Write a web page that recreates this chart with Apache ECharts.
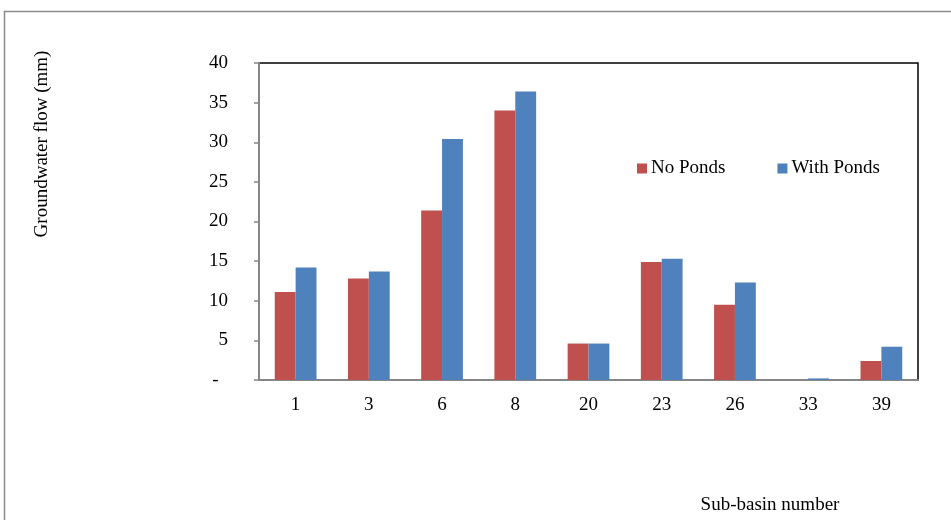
<!DOCTYPE html>
<html>
<head>
<meta charset="utf-8">
<script src="https://cdn.jsdelivr.net/npm/echarts@6/dist/echarts.min.js"></script>
<style>
  html, body { margin: 0; padding: 0; background: #fff; }
  #chart { width: 951px; height: 520px; }
</style>
</head>
<body>
<div id="chart"></div>
<script>
// Sub-basins and groundwater flow (mm) with and without ponds
const subBasins = ['1', '3', '6', '8', '20', '23', '26', '33', '39'];
const noPonds   = [11.1, 12.8, 21.4, 34.0, 4.6, 14.9, 9.5, 0.0, 2.4];
const withPonds = [14.2, 13.7, 30.4, 36.4, 4.6, 15.3, 12.3, 0.2, 4.2];
const yTicks = [0, 5, 10, 15, 20, 25, 30, 35, 40];

const serif = '"Liberation Serif", "Times New Roman", serif';
const fs = 19;

const chart = echarts.init(document.getElementById('chart'), null, { renderer: 'canvas' });

chart.setOption({
  animation: false,
  backgroundColor: '#ffffff',
  textStyle: { fontFamily: serif },
  graphic: [
    {
      // outer frame around the figure
      type: 'polyline',
      shape: { points: [[4.5, 530], [4.5, 11.5], [960, 11.5]] },
      style: { stroke: '#8c8c8c', lineWidth: 1.5, fill: null },
      silent: true
    },
    {
      type: 'text',
      x: 42, y: 144,
      rotation: Math.PI / 2,
      style: {
        text: 'Groundwater flow (mm)',
        font: fs + 'px ' + serif,
        fill: '#000',
        align: 'center',
        verticalAlign: 'middle'
      },
      silent: true
    },
    {
      type: 'text',
      x: 770, y: 505,
      style: {
        text: 'Sub-basin number',
        font: fs + 'px ' + serif,
        fill: '#000',
        align: 'center',
        verticalAlign: 'middle'
      },
      silent: true
    }
  ],
  legend: {
    left: 632, top: 154,
    itemWidth: 10, itemHeight: 10,
    itemGap: 52,
    icon: 'rect',
    textStyle: { fontFamily: serif, fontSize: fs, color: '#000', padding: [0, 0, 0, -1] },
    data: ['No Ponds', 'With Ponds']
  },
  grid: {
    left: 259, top: 63, right: 33, bottom: 140,
    show: true,
    borderColor: '#000',
    borderWidth: 1.5,
    containLabel: false
  },
  xAxis: {
    type: 'category',
    data: subBasins,
    axisLine: { lineStyle: { color: '#868686', width: 2 } },
    axisTick: { show: false },
    axisLabel: { fontFamily: serif, fontSize: fs, color: '#000', margin: 16 }
  },
  yAxis: {
    type: 'value',
    min: yTicks[0],
    max: yTicks[yTicks.length - 1],
    interval: 5,
    splitLine: { show: false },
    axisLine: { show: true, lineStyle: { color: '#868686', width: 2 } },
    axisTick: { show: true, length: 5, lineStyle: { color: '#868686', width: 1.5 } },
    axisLabel: {
      fontFamily: serif, fontSize: fs, color: '#000', margin: 31,
      formatter: v => (v === 0 ? '-  ' : String(v))
    }
  },
  series: [
    {
      name: 'No Ponds',
      type: 'bar',
      data: noPonds,
      barGap: '0%',
      barCategoryGap: '43%',
      itemStyle: { color: '#C0504D' }
    },
    {
      name: 'With Ponds',
      type: 'bar',
      data: withPonds,
      itemStyle: { color: '#4F81BD' }
    }
  ]
});
</script>
</body>
</html>
